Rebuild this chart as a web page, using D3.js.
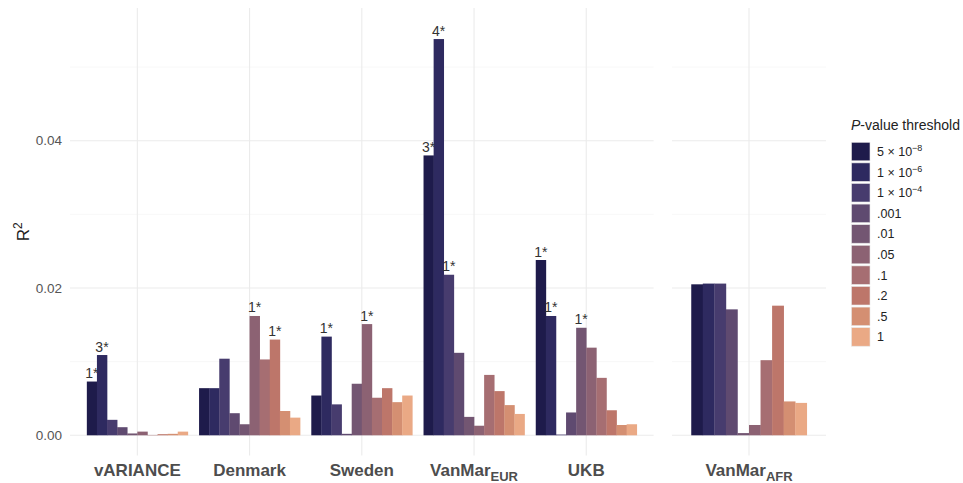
<!DOCTYPE html>
<html>
<head>
<meta charset="utf-8">
<script src="https://cdn.jsdelivr.net/npm/d3@7"></script>
<style>
  body { margin: 0; background: #fff; }
  svg { font-family: "Liberation Sans", Arial, sans-serif; }
</style>
</head>
<body>
<div id="chart"></div>
<script>
// Data
const cohorts = ["vARIANCE", "Denmark", "Sweden", "VanMar_EUR", "UKB"];
const cohortsAfr = ["VanMar_AFR"];
const thresholds = ["5e-8", "1e-6", "1e-4", ".001", ".01", ".05", ".1", ".2", ".5", "1"];
const colors = ["#1e1b4b", "#2e2a60", "#473c6e", "#5f4a70", "#735672",
                "#8c6273", "#a66e72", "#bd766a", "#d48f72", "#eaa985"];

const vARIANCE  = [0.0073, 0.0109, 0.0021, 0.0011, 0.00025, 0.0005, 0.00005, 0.00015, 0.0002, 0.0005];
const denmark   = [0.0064, 0.0064, 0.0104, 0.0030, 0.0015, 0.0162, 0.0103, 0.0130, 0.0033, 0.0024];
const sweden    = [0.0054, 0.0134, 0.0042, 0.0002, 0.0070, 0.0151, 0.0051, 0.0064, 0.0045, 0.0054];
const vanMarEur = [0.0380, 0.0538, 0.0218, 0.0112, 0.0025, 0.0013, 0.0082, 0.0060, 0.0041, 0.0029];
const ukb       = [0.0238, 0.0162, 0.0001, 0.0031, 0.0146, 0.0119, 0.0078, 0.0034, 0.0014, 0.0015];
const vanMarAfr = [0.0205, 0.0206, 0.0206, 0.0171, 0.0003, 0.0014, 0.0102, 0.0176, 0.0046, 0.0044];

// number of significant loci shown above bars
const lblVariance  = ["1*", "3*", "", "", "", "", "", "", "", ""];
const lblDenmark   = ["", "", "", "", "", "1*", "", "1*", "", ""];
const lblSweden    = ["", "1*", "", "", "", "1*", "", "", "", ""];
const lblVanMarEur = ["3*", "4*", "1*", "", "", "", "", "", "", ""];
const lblUkb       = ["1*", "1*", "", "", "1*", "", "", "", "", ""];
const lblVanMarAfr = ["", "", "", "", "", "", "", "", "", ""];

const yTicks = [0, 0.02, 0.04];
const yMinor = [0.01, 0.03, 0.05];

const seriesByCohort = {
  "vARIANCE": [vARIANCE, lblVariance],
  "Denmark": [denmark, lblDenmark],
  "Sweden": [sweden, lblSweden],
  "VanMar_EUR": [vanMarEur, lblVanMarEur],
  "UKB": [ukb, lblUkb],
  "VanMar_AFR": [vanMarAfr, lblVanMarAfr]
};

const W = 963, H = 483;
const panelTop = 8, panelBottom = 455.5;

const svg = d3.select("#chart").append("svg")
    .attr("width", W)
    .attr("height", H);

const y = d3.scaleLinear().domain([0, 0.04]).range([435.3, 140.7]);

// two facets, free x
const panels = [
  { cats: cohorts, range: [70, 653.6] },
  { cats: cohortsAfr, range: [672, 826] }
];

panels.forEach(p => {
  const x = d3.scaleBand()
      .domain(p.cats)
      .range(p.range)
      .paddingInner(0.1)
      .paddingOuter(0.15);
  const xSub = d3.scaleBand()
      .domain(thresholds)
      .range([0, x.bandwidth()]);

  const g = svg.append("g");

  // minor grid
  g.selectAll(".minor")
    .data(yMinor)
    .enter().append("line")
    .attr("x1", p.range[0]).attr("x2", p.range[1])
    .attr("y1", d => y(d)).attr("y2", d => y(d))
    .attr("stroke", "#f2f2f2").attr("stroke-width", 0.6);

  // major grid
  g.selectAll(".major")
    .data(yTicks)
    .enter().append("line")
    .attr("x1", p.range[0]).attr("x2", p.range[1])
    .attr("y1", d => y(d)).attr("y2", d => y(d))
    .attr("stroke", "#ebebeb").attr("stroke-width", 1.1);

  g.selectAll(".vgrid")
    .data(p.cats)
    .enter().append("line")
    .attr("x1", d => x(d) + x.bandwidth() / 2)
    .attr("x2", d => x(d) + x.bandwidth() / 2)
    .attr("y1", panelTop).attr("y2", panelBottom)
    .attr("stroke", "#ebebeb").attr("stroke-width", 1.1);

  // bars
  p.cats.forEach(c => {
    const vals = seriesByCohort[c][0];
    const lbls = seriesByCohort[c][1];
    const cg = g.append("g").attr("transform", `translate(${x(c)},0)`);

    cg.selectAll("rect")
      .data(vals)
      .enter().append("rect")
      .attr("x", (d, i) => xSub(thresholds[i]))
      .attr("width", xSub.bandwidth() + 0.3)
      .attr("y", d => y(d))
      .attr("height", d => y(0) - y(d))
      .attr("fill", (d, i) => colors[i]);

    cg.selectAll("text")
      .data(vals)
      .enter().append("text")
      .attr("x", (d, i) => xSub(thresholds[i]) + xSub.bandwidth() / 2)
      .attr("y", d => y(d) - 3.5)
      .attr("text-anchor", "middle")
      .attr("font-size", 14)
      .attr("fill", "#333")
      .text((d, i) => lbls[i]);

    // x label
    const parts = c.split("_");
    const t = svg.append("text")
      .attr("x", x(c) + x.bandwidth() / 2)
      .attr("y", 476)
      .attr("text-anchor", "middle")
      .attr("font-size", 17)
      .attr("font-weight", "bold")
      .attr("fill", "#4d4d4d");
    t.append("tspan").text(parts[0]);
    if (parts[1]) {
      t.append("tspan")
        .attr("dy", 5)
        .attr("font-size", 13)
        .text(parts[1]);
    }
  });
});

// y axis labels
svg.selectAll(".ytick")
  .data(yTicks)
  .enter().append("text")
  .attr("x", 62)
  .attr("y", d => y(d))
  .attr("dy", "0.35em")
  .attr("text-anchor", "end")
  .attr("font-size", 13.5)
  .attr("fill", "#555")
  .text(d3.format(".2f"));

// y title
const yt = svg.append("text")
  .attr("transform", `translate(29,${(panelTop + panelBottom) / 2}) rotate(-90)`)
  .attr("text-anchor", "middle")
  .attr("font-size", 17)
  .attr("fill", "#222");
yt.append("tspan").text("R");
yt.append("tspan").attr("dy", -7).attr("font-size", 12).text("2");

// legend
const legend = svg.append("g");
const lt = legend.append("text")
  .attr("x", 851)
  .attr("y", 130)
  .attr("font-size", 14)
  .attr("fill", "#222");
lt.append("tspan").attr("font-style", "italic").text("P");
lt.append("tspan").text("-value threshold");

const legendLabels = [["5 \u00d7 10", "\u22128"], ["1 \u00d7 10", "\u22126"], ["1 \u00d7 10", "\u22124"],
                      [".001"], [".01"], [".05"], [".1"], [".2"], [".5"], ["1"]];
const ly = d3.scaleBand().domain(thresholds).range([141.3, 141.3 + 20.6 * 10]);

thresholds.forEach((th, i) => {
  legend.append("rect")
    .attr("x", 851.5)
    .attr("y", ly(th) + 1)
    .attr("width", 18.5)
    .attr("height", 18.5)
    .attr("fill", colors[i])
    .attr("stroke", "#e6e6e6")
    .attr("stroke-width", 0.6);
  const tx = legend.append("text")
    .attr("x", 877)
    .attr("y", ly(th) + 10.3)
    .attr("dy", "0.35em")
    .attr("font-size", 12.5)
    .attr("fill", "#222");
  tx.append("tspan").text(legendLabels[i][0]);
  if (legendLabels[i][1]) {
    tx.append("tspan").attr("dy", -5).attr("font-size", 9).text(legendLabels[i][1]);
  }
});
</script>
</body>
</html>
